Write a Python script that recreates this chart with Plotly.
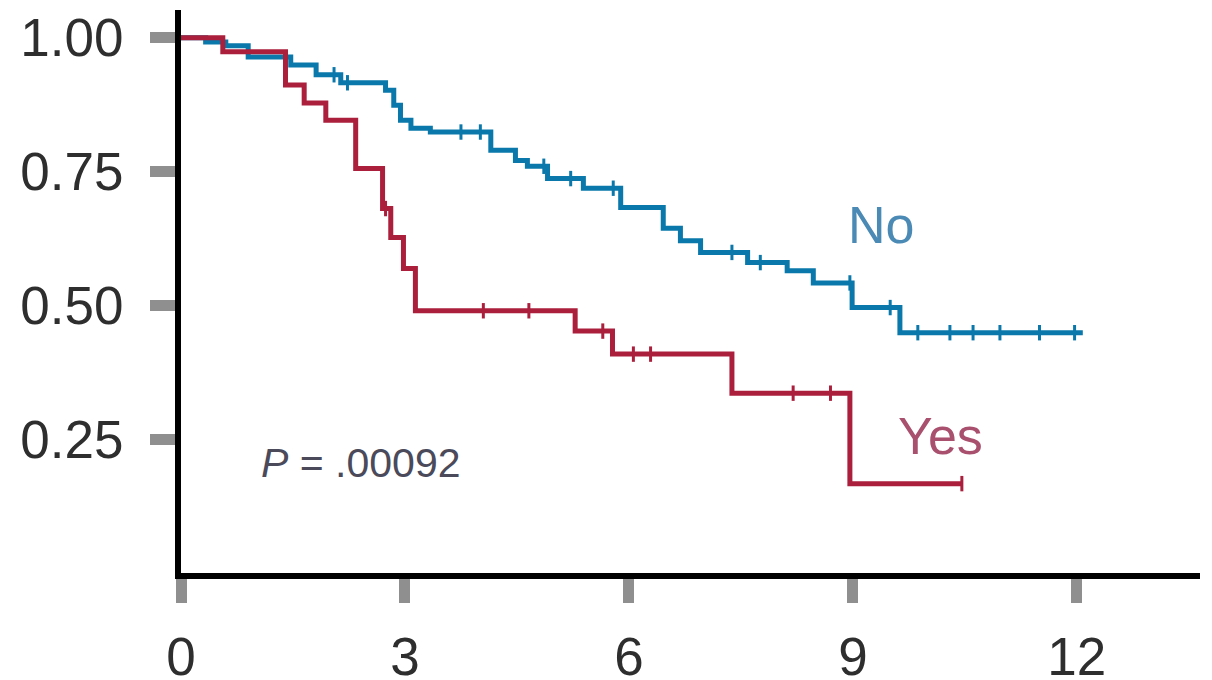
import plotly.graph_objects as go

# Kaplan-Meier estimates (time in months, survival probability)
no_times = [0, 0.33, 0.60, 0.90, 1.47, 1.81, 2.14, 2.74, 2.85, 2.94, 3.08, 3.34,
            4.15, 4.48, 4.64, 4.91, 5.39, 5.89, 6.46, 6.69, 6.96, 7.59, 8.12,
            8.47, 8.99, 9.63, 12.08]
no_surv = [1.000, 0.992, 0.985, 0.964, 0.949, 0.931, 0.916, 0.902, 0.874, 0.846,
           0.831, 0.824, 0.790, 0.771, 0.760, 0.737, 0.719, 0.683, 0.644, 0.621,
           0.599, 0.580, 0.565, 0.542, 0.496, 0.449, 0.449]

yes_times = [0, 0.56, 1.40, 1.65, 1.94, 2.34, 2.70, 2.81, 2.98, 3.14, 5.28,
             5.78, 7.38, 8.96, 10.46]
yes_surv = [1.000, 0.974, 0.912, 0.878, 0.846, 0.756, 0.681, 0.627, 0.569,
            0.490, 0.452, 0.409, 0.336, 0.167, 0.167]

# censored observations
no_cens_t = [2.05, 2.23, 3.75, 4.01, 4.86, 5.22, 5.79, 7.38, 7.76, 8.96, 9.50,
             9.87, 10.30, 10.61, 10.97, 11.50, 11.97]
no_cens_s = [0.931, 0.916, 0.824, 0.824, 0.760, 0.737, 0.719, 0.599, 0.580,
             0.542, 0.496, 0.449, 0.449, 0.449, 0.449, 0.449, 0.449]
yes_cens_t = [2.74, 4.05, 4.66, 5.65, 6.06, 6.29, 8.20, 8.70, 10.46]
yes_cens_s = [0.681, 0.490, 0.490, 0.452, 0.409, 0.409, 0.336, 0.336, 0.167]

x_ticks = [0, 3, 6, 9, 12]
y_ticks = [0.25, 0.50, 0.75, 1.00]
y_tick_labels = ["0.25", "0.50", "0.75", "1.00"]

BLUE = "#0a78ab"
RED = "#ab1f3c"
FONT = "Liberation Sans, Arial, sans-serif"

fig = go.Figure()

for t, s, col in [(no_times, no_surv, BLUE), (yes_times, yes_surv, RED)]:
    fig.add_trace(go.Scatter(x=t, y=s, mode="lines", line=dict(color=col, width=5, shape="hv"),
                             showlegend=False, hoverinfo="skip"))

for t, s, col in [(no_cens_t, no_cens_s, BLUE), (yes_cens_t, yes_cens_s, RED)]:
    fig.add_trace(go.Scatter(x=t, y=s, mode="markers",
                             marker=dict(symbol="line-ns", size=11, line=dict(color=col, width=3)),
                             showlegend=False, hoverinfo="skip"))

fig.add_annotation(x=9.38, y=0.651, text="No", showarrow=False,
                   font=dict(family=FONT, size=52, color="#4a8ab5"))
fig.add_annotation(x=10.18, y=0.256, text="Yes", showarrow=False,
                   font=dict(family=FONT, size=52, color="#a8506e"))
fig.add_annotation(x=1.04, y=0.205, text="<i>P</i> = .00092", showarrow=False, xanchor="left",
                   font=dict(family=FONT, size=41, color="#4a4a5a"))

fig.update_layout(
    width=1212, height=680,
    margin=dict(l=181, r=12, t=10, b=107),
    plot_bgcolor="white", paper_bgcolor="white",
    font=dict(family=FONT, size=53, color="#2e2e2e"),
    xaxis=dict(range=[0, 13.65], tickvals=x_ticks, ticks="outside", ticklen=24, tickwidth=11,
               tickcolor="#8f8f8f", showline=True, linewidth=6, linecolor="black",
               showgrid=False, zeroline=False, ticklabelstandoff=8, automargin=False),
    yaxis=dict(range=[0, 1.052], tickvals=y_ticks, ticktext=y_tick_labels, ticks="outside",
               ticklen=25, tickwidth=11, tickcolor="#8f8f8f", showline=True, linewidth=6,
               linecolor="black", showgrid=False, zeroline=False, ticklabelstandoff=16,
               automargin=False),
)

fig.write_html("out.html")
